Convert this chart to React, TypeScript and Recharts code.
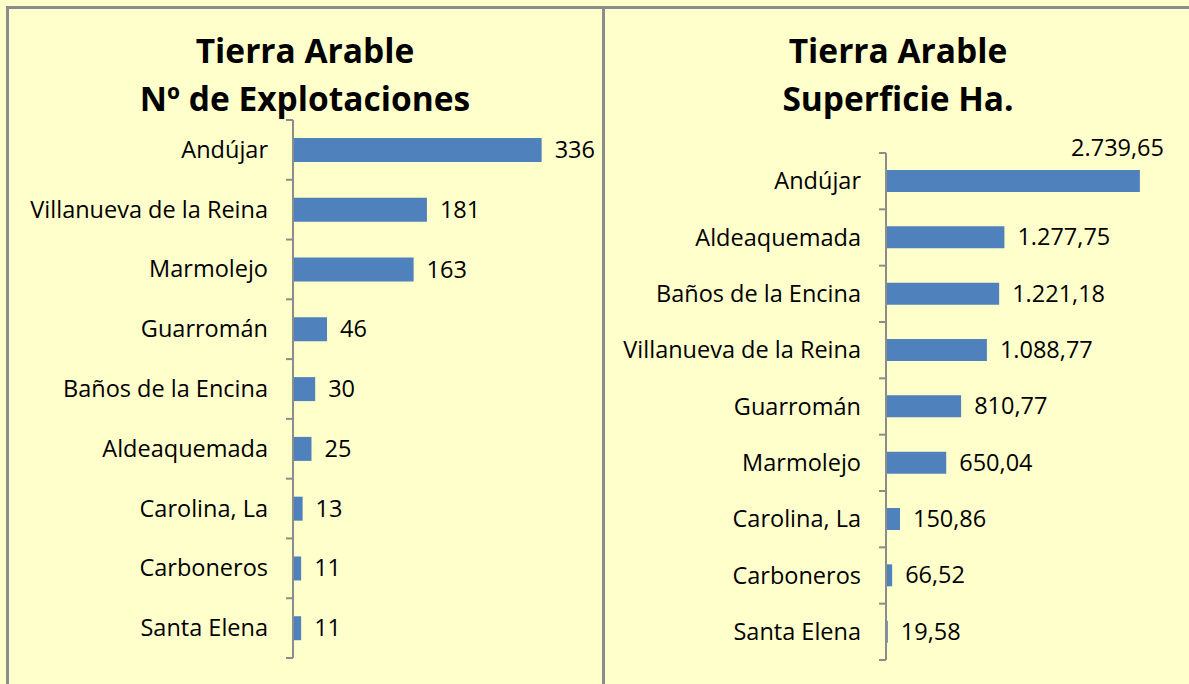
import { BarChart, Bar, XAxis, YAxis, LabelList } from "recharts";

const explotCategories = [
  "Andújar",
  "Villanueva de la Reina",
  "Marmolejo",
  "Guarromán",
  "Baños de la Encina",
  "Aldeaquemada",
  "Carolina, La",
  "Carboneros",
  "Santa Elena",
];
const explotValues = [336, 181, 163, 46, 30, 25, 13, 11, 11];

const superCategories = [
  "Andújar",
  "Aldeaquemada",
  "Baños de la Encina",
  "Villanueva de la Reina",
  "Guarromán",
  "Marmolejo",
  "Carolina, La",
  "Carboneros",
  "Santa Elena",
];
const superValues = [2739.65, 1277.75, 1221.18, 1088.77, 810.77, 650.04, 150.86, 66.52, 19.58];

const BG = "#FFFFCC";
const BAR = "#4F81BD";
const AXIS = "#8C8C8C";
const FONT = "'Open Sans', Lato, sans-serif";
const FS = 23.5;

// spanish number format, grouping also 4 digit numbers
function fmtEs(v: number, decimals: number) {
  const [int, dec] = v.toFixed(decimals).split(".");
  const grouped = int.replace(/\B(?=(\d{3})+(?!\d))/g, ".");
  return dec ? `${grouped},${dec}` : grouped;
}

function makeTick(step: number, count: number) {
  return (props: any) => {
    const { x, y, payload, index } = props;
    const axisX = x + 25;
    return (
      <g>
        <line x1={axisX - 7} x2={axisX} y1={y - step / 2} y2={y - step / 2} stroke={AXIS} strokeWidth={2} />
        {index === count - 1 && (
          <line x1={axisX - 7} x2={axisX} y1={y + step / 2} y2={y + step / 2} stroke={AXIS} strokeWidth={2} />
        )}
        <text x={x} y={y} dy={8} textAnchor="end" fontSize={FS} fill="#000" fontFamily={FONT}>
          {payload.value}
        </text>
      </g>
    );
  };
}

function makeLabel(decimals: number, plotRight: number) {
  return (props: any) => {
    const { x, y, width, height, value } = props;
    const text = fmtEs(value, decimals);
    const estW = text.length * 12.5;
    const endX = x + width + 13;
    if (endX + estW > plotRight + 10) {
      return (
        <text x={plotRight} y={y - 14} textAnchor="end" fontSize={FS} fill="#000" fontFamily={FONT}>
          {text}
        </text>
      );
    }
    return (
      <text x={endX} y={y + height / 2 + 8} fontSize={FS} fill="#000" fontFamily={FONT}>
        {text}
      </text>
    );
  };
}

const leftData = explotCategories.map((name, i) => ({ name, value: explotValues[i] }));
const rightData = superCategories.map((name, i) => ({ name, value: superValues[i] }));

const titleStyle: React.CSSProperties = {
  position: "absolute",
  textAlign: "center",
  fontFamily: FONT,
  fontWeight: 700,
  fontSize: 33.5,
  lineHeight: "48px",
  color: "#000",
};

export default function App() {
  return (
    <div style={{ position: "fixed", left: 0, top: 0, width: 1189, height: 684, background: BG, overflow: "hidden" }}>
      <div style={{ position: "absolute", left: 6, top: 6, width: 1183, height: 3, background: AXIS }} />
      <div style={{ position: "absolute", left: 6, top: 6, width: 3, height: 678, background: AXIS }} />
      <div style={{ position: "absolute", left: 602, top: 6, width: 3, height: 678, background: AXIS }} />

      <div style={{ ...titleStyle, left: 105, width: 400, top: 26 }}>
        Tierra Arable
        <br />
        Nº de Explotaciones
      </div>
      <div style={{ ...titleStyle, left: 698, width: 400, top: 26 }}>
        Tierra Arable
        <br />
        Superficie Ha.
      </div>

      <div style={{ position: "absolute", left: 0, top: 0 }}>
        <BarChart width={600} height={684} data={leftData} layout="vertical" margin={{ top: 120, right: 11, bottom: 26, left: 0 }}>
          <XAxis type="number" domain={[0, 400]} hide />
          <YAxis
            type="category"
            dataKey="name"
            width={293}
            axisLine={{ stroke: AXIS, strokeWidth: 2 }}
            tickLine={false}
            tickSize={7}
            tickMargin={18}
            interval={0}
            tick={makeTick(538 / 9, 9)}
          />
          <Bar dataKey="value" fill={BAR} barSize={24} isAnimationActive={false}>
            <LabelList dataKey="value" content={makeLabel(0, 589)} />
          </Bar>
        </BarChart>
      </div>

      <div style={{ position: "absolute", left: 604, top: 0 }}>
        <BarChart width={585} height={684} data={rightData} layout="vertical" margin={{ top: 153, right: 25, bottom: 24, left: 0 }}>
          <XAxis type="number" domain={[0, 3000]} hide />
          <YAxis
            type="category"
            dataKey="name"
            width={282}
            axisLine={{ stroke: AXIS, strokeWidth: 2 }}
            tickLine={false}
            tickSize={7}
            tickMargin={18}
            interval={0}
            tick={makeTick(507 / 9, 9)}
          />
          <Bar dataKey="value" fill={BAR} barSize={22} isAnimationActive={false}>
            <LabelList dataKey="value" content={makeLabel(2, 560)} />
          </Bar>
        </BarChart>
      </div>
    </div>
  );
}
